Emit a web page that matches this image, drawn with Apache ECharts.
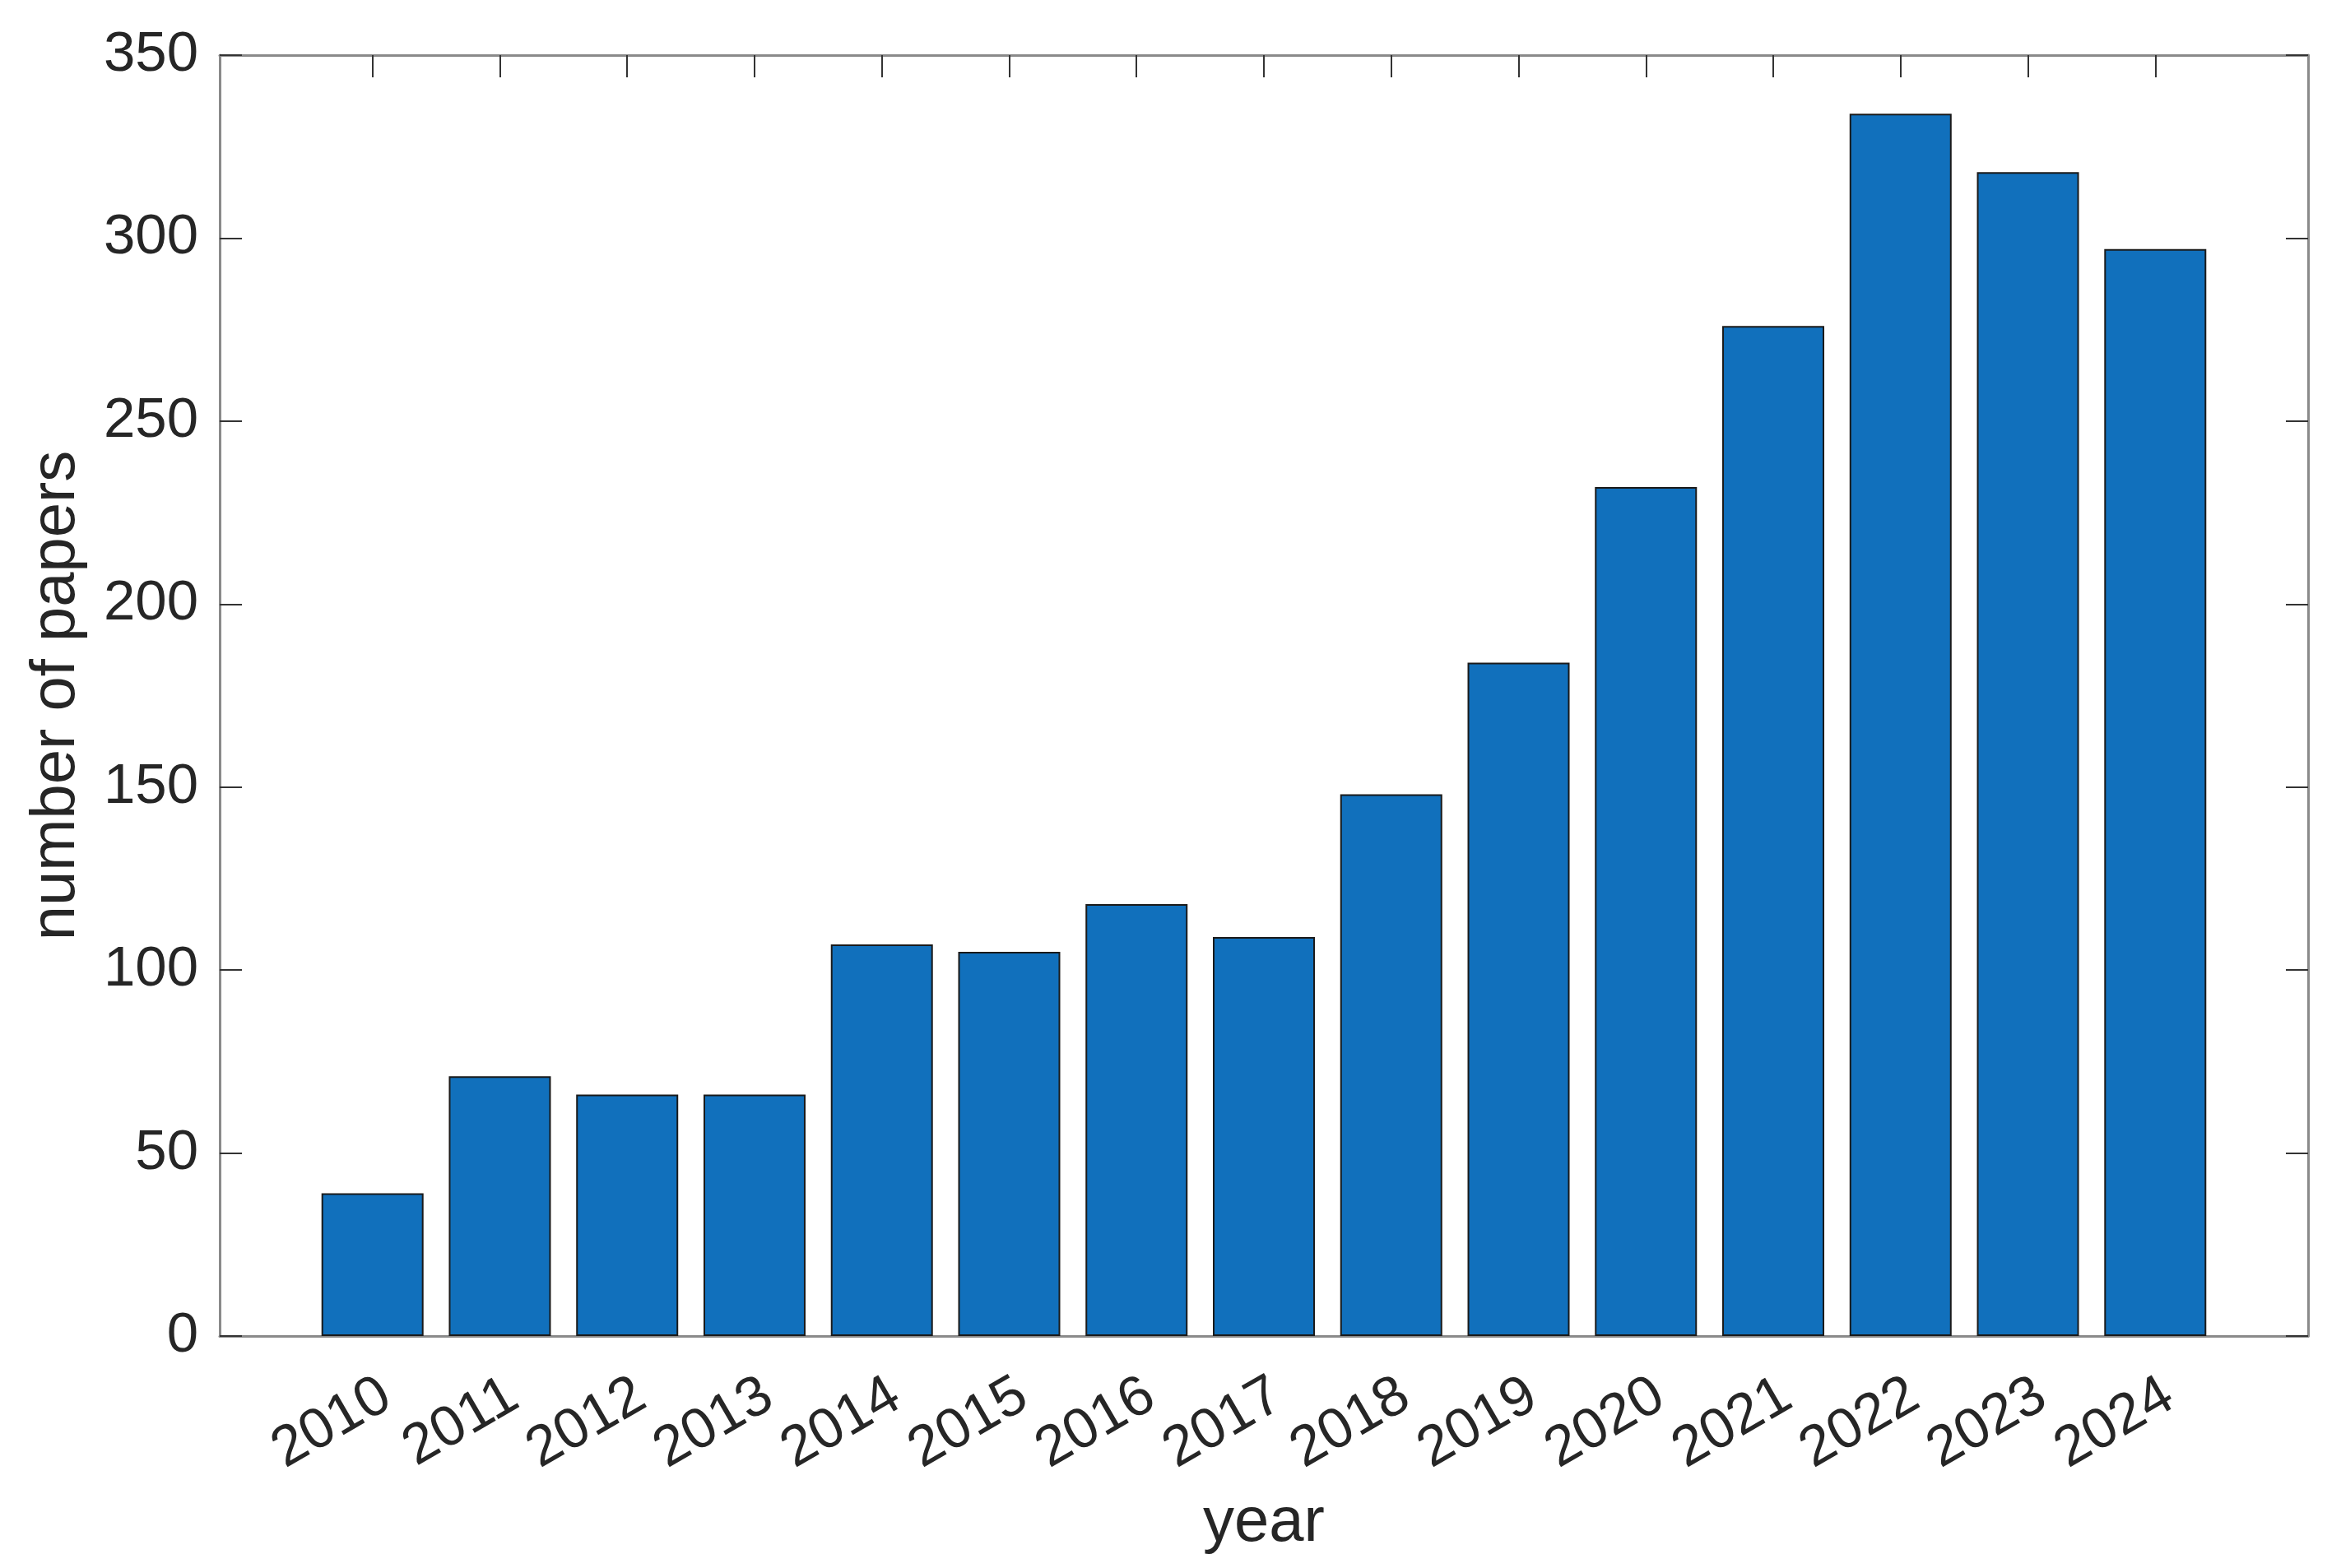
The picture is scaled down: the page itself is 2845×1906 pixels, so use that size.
<!DOCTYPE html>
<html>
<head>
<meta charset="utf-8">
<script src="https://cdn.jsdelivr.net/npm/echarts@6/dist/echarts.min.js"></script>
<style>
html,body{margin:0;padding:0;background:#fff;}
#chart{width:2845px;height:1906px;}
</style>
</head>
<body>
<div id="chart"></div>
<script>
const years = [2010,2011,2012,2013,2014,2015,2016,2017,2018,2019,2020,2021,2022,2023,2024];
const papers = [39,71,66,66,107,105,118,109,148,184,232,276,334,318,297];
const yTicks = [0,50,100,150,200,250,300,350];

const FONT = '"Liberation Sans", Arial, Helvetica, sans-serif';
const AXIS_GRAY = '#8a8a8a';
const TICK_DARK = '#333333';
const TEXT = '#262626';

const chart = echarts.init(document.getElementById('chart'), null, {renderer:'canvas'});
const option = {
  animation:false,
  backgroundColor:'#ffffff',
  grid:{left:267,right:40,top:67,bottom:282,containLabel:false},
  xAxis:[{
    type:'value', position:'bottom', min:2008.8, max:2025.2,
    name:'year', nameLocation:'middle', nameGap:190,
    nameTextStyle:{fontFamily:FONT,fontSize:76,color:TEXT},
    axisLine:{show:true,onZero:false,lineStyle:{color:AXIS_GRAY,width:3}},
    axisTick:{show:true,inside:true,length:27,customValues:years,lineStyle:{color:TICK_DARK,width:2}},
    axisLabel:{show:true,customValues:years,rotate:30,margin:38,verticalAlign:'top',fontFamily:FONT,fontSize:69,color:TEXT,formatter:v=>String(v)},
    splitLine:{show:false}
  },{
    type:'value', position:'top', min:2008.8, max:2025.2,
    axisLine:{show:true,onZero:false,lineStyle:{color:AXIS_GRAY,width:3}},
    axisTick:{show:true,inside:true,length:27,customValues:years,lineStyle:{color:TICK_DARK,width:2}},
    axisLabel:{show:false},
    splitLine:{show:false}
  }],
  yAxis:[{
    type:'value', position:'left', min:0, max:350, interval:50,
    name:'number of papers', nameLocation:'middle', nameGap:160, nameRotate:90,
    nameTextStyle:{fontFamily:FONT,fontSize:76,color:TEXT},
    axisLine:{show:true,onZero:false,lineStyle:{color:AXIS_GRAY,width:3}},
    axisTick:{show:true,inside:true,length:27,customValues:yTicks,lineStyle:{color:TICK_DARK,width:2}},
    axisLabel:{show:true,customValues:yTicks,margin:26,fontFamily:FONT,fontSize:69,color:TEXT},
    splitLine:{show:false}
  },{
    type:'value', position:'right', min:0, max:350, interval:50,
    axisLine:{show:true,onZero:false,lineStyle:{color:AXIS_GRAY,width:3}},
    axisTick:{show:true,inside:true,length:27,customValues:yTicks,lineStyle:{color:TICK_DARK,width:2}},
    axisLabel:{show:false},
    splitLine:{show:false}
  }],
  series:[{
    type:'bar', xAxisIndex:0, yAxisIndex:0,
    barWidth:124,
    data: years.map((y,i)=>[y, papers[i]]),
    itemStyle:{color:'#1170BC',borderColor:'#1a1a1a',borderWidth:2},
    z:1
  }]
};
chart.setOption(option);
</script>
</body>
</html>
